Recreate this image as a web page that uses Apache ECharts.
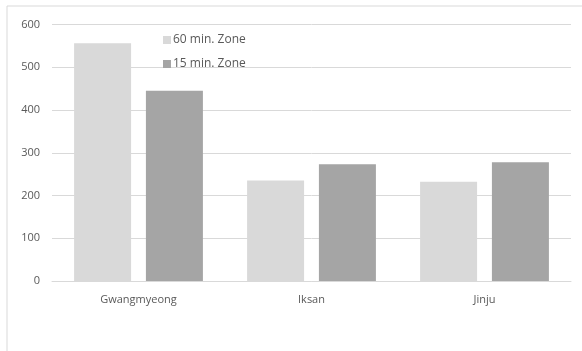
<!DOCTYPE html>
<html>
<head>
<meta charset="utf-8">
<script src="https://cdn.jsdelivr.net/npm/echarts@6/dist/echarts.min.js"></script>
<style>
  html, body { margin: 0; padding: 0; background: #fff; }
  #chart { width: 582px; height: 351px; }
</style>
</head>
<body>
<div id="chart"></div>
<script>
const categories = ['Gwangmyeong', 'Iksan', 'Jinju'];
const zone60 = [556, 235, 232];
const zone15 = [445, 273, 278];
const yTicks = { min: 0, max: 600, interval: 100 };

const chart = echarts.init(document.getElementById('chart'));
const font = '"Open Sans", "Liberation Sans", sans-serif';

chart.setOption({
  animation: false,
  textStyle: { fontFamily: font },
  graphic: [{
    type: 'rect',
    shape: { x: 7, y: 6, width: 600, height: 400 },
    style: { fill: 'none', stroke: '#d9d9d9', lineWidth: 1 },
    silent: true
  }],
  grid: { left: 52, right: 11, top: 24.5, bottom: 70 },
  legend: {
    orient: 'vertical',
    left: 158,
    top: 29,
    itemWidth: 8,
    itemHeight: 8,
    itemGap: 12,
    icon: 'rect',
    textStyle: { color: '#595959', fontSize: 12, fontFamily: font, padding: [0, 0, 0, -3] },
    data: ['60 min. Zone', '15 min. Zone']
  },
  xAxis: {
    type: 'category',
    data: categories,
    axisLine: { show: true, lineStyle: { color: '#d9d9d9' } },
    axisTick: { show: false },
    axisLabel: { color: '#595959', fontSize: 11, margin: 13, fontFamily: font }
  },
  yAxis: {
    type: 'value',
    min: yTicks.min,
    max: yTicks.max,
    interval: yTicks.interval,
    axisLine: { show: false },
    axisTick: { show: false },
    axisLabel: { color: '#595959', fontSize: 11, margin: 12, fontFamily: font },
    splitLine: { lineStyle: { color: '#d9d9d9' } }
  },
  series: [
    {
      name: '60 min. Zone',
      type: 'bar',
      data: zone60,
      barWidth: 57,
      barGap: '26%',
      itemStyle: { color: '#d9d9d9' }
    },
    {
      name: '15 min. Zone',
      type: 'bar',
      data: zone15,
      barWidth: 57,
      itemStyle: { color: '#a5a5a5' }
    }
  ]
});
</script>
</body>
</html>
